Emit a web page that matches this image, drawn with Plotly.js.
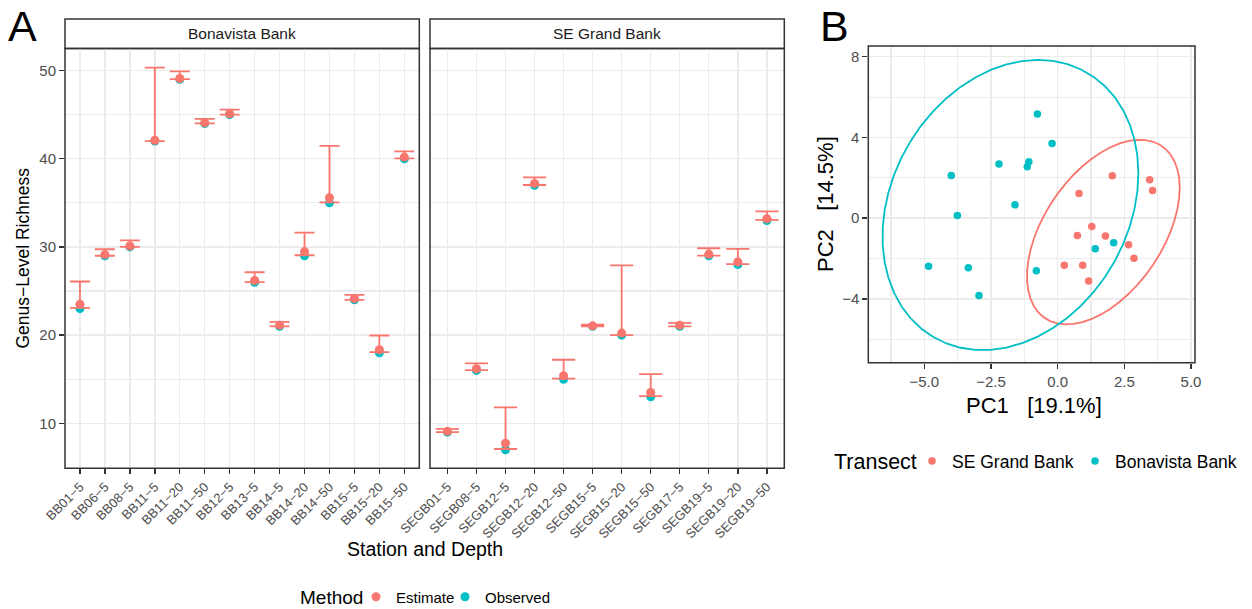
<!DOCTYPE html>
<html><head><meta charset="utf-8">
<script src="https://cdn.plot.ly/plotly-3.0.1.min.js"></script>
<style>html,body{margin:0;padding:0;background:#fff;} #chart{width:1252px;height:609px;}</style>
</head><body><div id="chart"></div>
<script>
// ---------- Panel A data (genus-level richness) ----------
const bbStations = ["BB01−5","BB06−5","BB08−5","BB11−5","BB11−20","BB11−50","BB12−5","BB13−5","BB14−5","BB14−20","BB14−50","BB15−5","BB15−20","BB15−50"];
const bbObserved = [23, 29, 30, 42, 49, 44, 45, 26, 21, 29, 35, 24, 18, 40];
const bbEstimate = [23.5, 29.13, 30.1, 42.1, 49.1, 44.08, 45.1, 26.19, 21.13, 29.47, 35.58, 24.15, 18.34, 40.19];
const bbLower    = [23.1, 29.0, 30.0, 42.0, 49.02, 44.0, 45.0, 26.0, 21.0, 29.06, 35.06, 24.0, 18.08, 40.04];
const bbUpper    = [26.08, 29.74, 30.75, 50.34, 49.9, 44.53, 45.58, 27.13, 21.5, 31.62, 41.47, 24.57, 19.96, 40.83];

const seStations = ["SEGB01−5","SEGB08−5","SEGB12−5","SEGB12−20","SEGB12−50","SEGB15−5","SEGB15−20","SEGB15−50","SEGB17−5","SEGB19−5","SEGB19−20","SEGB19−50"];
const seObserved = [9, 16, 7, 37, 15, 21, 20, 13, 21, 29, 28, 33];
const seEstimate = [9.09, 16.19, 7.74, 37.2, 15.4, 21.05, 20.23, 13.5, 21.13, 29.17, 28.3, 33.2];
const seLower    = [9.0, 16.04, 7.09, 37.02, 15.06, 21.0, 20.0, 13.09, 21.0, 29.02, 28.04, 33.06];
const seUpper    = [9.36, 16.79, 11.81, 37.89, 17.21, 21.2, 27.92, 15.58, 21.4, 29.85, 29.77, 34.04];

const yTicksA = [10, 20, 30, 40, 50];
const yMinorA = [15, 25, 35, 45];

// ---------- Panel B data (PCA scores) ----------
const bbPC1 = [-0.76, -0.21, -2.2, -1.08, -1.14, -3.99, -1.6, -3.76, -4.84, -3.35, -2.95, -0.8, 1.41, 2.1];
const bbPC2 = [5.16, 3.70, 2.68, 2.79, 2.55, 2.12, 0.66, 0.13, -2.38, -2.46, -3.83, -2.61, -1.52, -1.22];
const sePC1 = [2.05, 3.45, 3.56, 0.8, 1.28, 0.74, 1.79, 2.66, 2.86, 0.25, 0.94, 1.16];
const sePC2 = [2.10, 1.90, 1.37, 1.22, -0.41, -0.86, -0.88, -1.32, -1.98, -2.33, -2.33, -3.11];

const xTicksB = [-5, -2.5, 0, 2.5, 5];
const xMinorB = [-6.25, -3.75, -1.25, 1.25, 3.75];
const yTicksB = [-4, 0, 4, 8];
const yMinorB = [-6, -2, 2, 6];

const RED = "#F8766D", TEAL = "#00BFC4";

// robust t covariance (MASS::cov.trob) + ggplot2 stat_ellipse
function covTrob(xs, ys) {
  const n = xs.length, p = 2, nu = 5;
  let loc = [xs.reduce((a,b)=>a+b,0)/n, ys.reduce((a,b)=>a+b,0)/n];
  let w = new Array(n).fill(1);
  let X = [];
  for (let iter = 0; iter < 25; iter++) {
    const w0 = w.slice();
    X = xs.map((x, i) => [x - loc[0], ys[i] - loc[1]]);
    const sw = w.reduce((a,b)=>a+b,0);
    let a = 0, b = 0, c = 0;
    for (let i = 0; i < n; i++) {
      const f = w[i] / sw;
      a += f * X[i][0] * X[i][0]; b += f * X[i][0] * X[i][1]; c += f * X[i][1] * X[i][1];
    }
    const det = a * c - b * b;
    const i0 = c / det, i1 = -b / det, i2 = a / det;
    w = X.map(v => (nu + p) / (nu + (v[0]*v[0]*i0 + 2*v[0]*v[1]*i1 + v[1]*v[1]*i2)));
    const sw2 = w.reduce((s,v)=>s+v,0);
    loc = [w.reduce((s,v,i)=>s+v*xs[i],0)/sw2, w.reduce((s,v,i)=>s+v*ys[i],0)/sw2];
    if (w.every((v, i) => Math.abs(v - w0[i]) < 0.01)) break;
  }
  let s11 = 0, s12 = 0, s22 = 0;
  for (let i = 0; i < n; i++) {
    s11 += w[i] * X[i][0] * X[i][0]; s12 += w[i] * X[i][0] * X[i][1]; s22 += w[i] * X[i][1] * X[i][1];
  }
  return {center: loc, cov: [s11 / n, s12 / n, s22 / n]};
}
function ellipse(xs, ys, level = 0.95, segments = 51) {
  const n = xs.length, dfd = n - 1;
  const {center, cov} = covTrob(xs, ys);
  const fq = (dfd / 2) * (Math.pow(1 - level, -2 / dfd) - 1);
  const radius = Math.sqrt(2 * fq);
  const r11 = Math.sqrt(cov[0]), r12 = cov[1] / r11, r22 = Math.sqrt(cov[2] - r12 * r12);
  const ex = [], ey = [];
  for (let k = 0; k <= segments; k++) {
    const t = 2 * Math.PI * k / segments, c = Math.cos(t), s = Math.sin(t);
    ex.push(center[0] + radius * c * r11);
    ey.push(center[1] + radius * (c * r12 + s * r22));
  }
  return {x: ex, y: ey};
}

const diff = (a, b) => a.map((v, i) => v - b[i]);
const bbEll = ellipse(bbPC1, bbPC2);
const seEll = ellipse(sePC1, sePC2);

const traces = [
  {x: bbStations, y: bbObserved, xaxis: "x", yaxis: "y", type: "scatter", mode: "markers",
   marker: {color: TEAL, size: 9}, name: "Observed", legend: "legend", legendrank: 2, legendwidth: 80, legendgroup: "obs", hoverinfo: "skip"},
  {x: seStations, y: seObserved, xaxis: "x2", yaxis: "y2", type: "scatter", mode: "markers",
   marker: {color: TEAL, size: 9}, name: "Observed", showlegend: false, legendgroup: "obs", hoverinfo: "skip"},
  {x: bbStations, y: bbEstimate, xaxis: "x", yaxis: "y", type: "scatter", mode: "markers",
   marker: {color: RED, size: 9}, name: "Estimate", legend: "legend", legendrank: 1, legendwidth: 44, legendgroup: "est", hoverinfo: "skip",
   error_y: {type: "data", symmetric: false, array: diff(bbUpper, bbEstimate), arrayminus: diff(bbEstimate, bbLower),
             color: RED, thickness: 1.8, width: 10}},
  {x: seStations, y: seEstimate, xaxis: "x2", yaxis: "y2", type: "scatter", mode: "markers",
   marker: {color: RED, size: 9}, name: "Estimate", showlegend: false, legendgroup: "est", hoverinfo: "skip",
   error_y: {type: "data", symmetric: false, array: diff(seUpper, seEstimate), arrayminus: diff(seEstimate, seLower),
             color: RED, thickness: 1.8, width: 11.6}},
  {x: sePC1, y: sePC2, xaxis: "x3", yaxis: "y3", type: "scatter", mode: "markers",
   marker: {color: RED, size: 7.5}, name: "SE Grand Bank", legend: "legend2", legendrank: 1, legendwidth: 118, hoverinfo: "skip"},
  {x: bbPC1, y: bbPC2, xaxis: "x3", yaxis: "y3", type: "scatter", mode: "markers",
   marker: {color: TEAL, size: 7.5}, name: "Bonavista Bank", legend: "legend2", legendrank: 2, legendwidth: 135, hoverinfo: "skip"},
  {x: seEll.x, y: seEll.y, xaxis: "x3", yaxis: "y3", type: "scatter", mode: "lines",
   line: {color: RED, width: 1.8}, showlegend: false, hoverinfo: "skip"},
  {x: bbEll.x, y: bbEll.y, xaxis: "x3", yaxis: "y3", type: "scatter", mode: "lines",
   line: {color: TEAL, width: 1.8}, showlegend: false, hoverinfo: "skip"}
];

const W = 1252, H = 609;
const px = v => v / W, py = v => 1 - v / H;
const GRID = "#EBEBEB", DARK = "#333333", TICKC = "#4D4D4D";
const FONT = "Liberation Sans, Arial, sans-serif";

const catAxis = (dom, n) => ({
  domain: dom, type: "category", range: [-0.6, n - 1 + 0.6], showgrid: true, gridcolor: GRID, gridwidth: 1.4,
  ticks: "outside", ticklen: 5, tickwidth: 1.4, tickcolor: DARK, tickangle: -45,
  tickfont: {size: 13, color: TICKC}, zeroline: false, showline: false, fixedrange: true
});

const ann = (text, x, y, size, extra) => Object.assign({text, xref: "paper", yref: "paper", x: px(x), y: py(y),
  xanchor: "center", yanchor: "middle", showarrow: false, font: {size, color: "#000"}}, extra || {});

const layout = {
  width: W, height: H, margin: {l: 0, r: 0, t: 0, b: 0, autoexpand: false}, autosize: false,
  paper_bgcolor: "#fff", plot_bgcolor: "#fff", font: {family: FONT, color: "#000"},
  xaxis: Object.assign(catAxis([px(65), px(419.3)], bbStations.length), {anchor: "y"}),
  xaxis2: Object.assign(catAxis([px(430), px(784.3)], seStations.length), {anchor: "y2"}),
  yaxis: {domain: [py(468.3), py(48.5)], range: [4.9, 52.5], anchor: "x", tickvals: yTicksA,
          showgrid: true, gridcolor: GRID, gridwidth: 1.4, minor: {tickvals: yMinorA, showgrid: true, gridcolor: GRID, gridwidth: 1.1, ticks: ""},
          ticks: "outside", ticklen: 5, tickwidth: 1.4, tickcolor: DARK, tickfont: {size: 15, color: TICKC},
          zeroline: false, showline: false},
  yaxis2: {domain: [py(468.3), py(48.5)], matches: "y", anchor: "x2", tickvals: yTicksA, showticklabels: false, ticks: "",
          showgrid: true, gridcolor: GRID, gridwidth: 1.4, minor: {tickvals: yMinorA, showgrid: true, gridcolor: GRID, gridwidth: 1.1, ticks: ""},
          zeroline: false, showline: false},
  xaxis3: {domain: [px(868.3), px(1195)], range: [-7.1, 5.15], anchor: "y3", tickvals: xTicksB, tickformat: ".1f",
          showgrid: true, gridcolor: GRID, gridwidth: 1.4, minor: {tickvals: xMinorB, showgrid: true, gridcolor: GRID, gridwidth: 1.1, ticks: ""},
          ticks: "outside", ticklen: 5, tickwidth: 1.4, tickcolor: DARK, tickfont: {size: 15, color: TICKC},
          zeroline: false, showline: false},
  yaxis3: {domain: [py(362.7), py(46)], range: [-7.16, 8.53], anchor: "x3", tickvals: yTicksB,
          showgrid: true, gridcolor: GRID, gridwidth: 1.4, minor: {tickvals: yMinorB, showgrid: true, gridcolor: GRID, gridwidth: 1.1, ticks: ""},
          ticks: "outside", ticklen: 5, tickwidth: 1.4, tickcolor: DARK, tickfont: {size: 15, color: TICKC},
          zeroline: false, showline: false},
  legend: {orientation: "h", x: px(356), xanchor: "left", y: py(597), yanchor: "middle", bgcolor: "rgba(0,0,0,0)",
           font: {size: 15, color: "#000"}, itemclick: false, itemdoubleclick: false},
  legend2: {orientation: "h", x: px(912), xanchor: "left", y: py(461), yanchor: "middle", bgcolor: "rgba(0,0,0,0)",
           font: {size: 17.5, color: "#000"}, itemclick: false, itemdoubleclick: false},
  shapes: [
    {type: "rect", xref: "x domain", yref: "paper", x0: 0, x1: 1, y0: py(48.5), y1: py(19), fillcolor: "#fff", line: {color: DARK, width: 1.5}, layer: "below"},
    {type: "rect", xref: "x2 domain", yref: "paper", x0: 0, x1: 1, y0: py(48.5), y1: py(19), fillcolor: "#fff", line: {color: DARK, width: 1.5}, layer: "below"},
    {type: "rect", xref: "x domain", yref: "y domain", x0: 0, x1: 1, y0: 0, y1: 1, line: {color: DARK, width: 1.5}, layer: "above"},
    {type: "rect", xref: "x2 domain", yref: "y2 domain", x0: 0, x1: 1, y0: 0, y1: 1, line: {color: DARK, width: 1.5}, layer: "above"},
    {type: "rect", xref: "x3 domain", yref: "y3 domain", x0: 0, x1: 1, y0: 0, y1: 1, line: {color: DARK, width: 1.5}, layer: "above"}
  ],
  annotations: [
    {text: "Bonavista Bank", xref: "x domain", x: 0.5, xanchor: "center", yref: "paper", y: py(33.75), yanchor: "middle", showarrow: false, font: {size: 15.5, color: "#1A1A1A"}},
    {text: "SE Grand Bank", xref: "x2 domain", x: 0.5, xanchor: "center", yref: "paper", y: py(33.75), yanchor: "middle", showarrow: false, font: {size: 15.5, color: "#1A1A1A"}},
    ann("Genus−Level Richness", 22, 258.5, 17.5, {textangle: -90}),
    ann("Station and Depth", 424.7, 549, 19.5),
    ann("PC1\u00A0\u00A0\u00A0[19.1%]", 1034, 405, 22),
    ann("PC2\u00A0\u00A0\u00A0[14.5%]", 825, 204, 22, {textangle: -90}),
    ann("Method", 298, 597, 19, {xanchor: "left"}),
    ann("Transect", 832, 462, 21.5, {xanchor: "left"}),
    ann("A", 6, 25.5, 43, {xanchor: "left"}),
    ann("B", 818, 25.5, 43, {xanchor: "left"})
  ]
};

Plotly.newPlot("chart", traces, layout, {displayModeBar: false, staticPlot: true});
</script>
</body></html>
